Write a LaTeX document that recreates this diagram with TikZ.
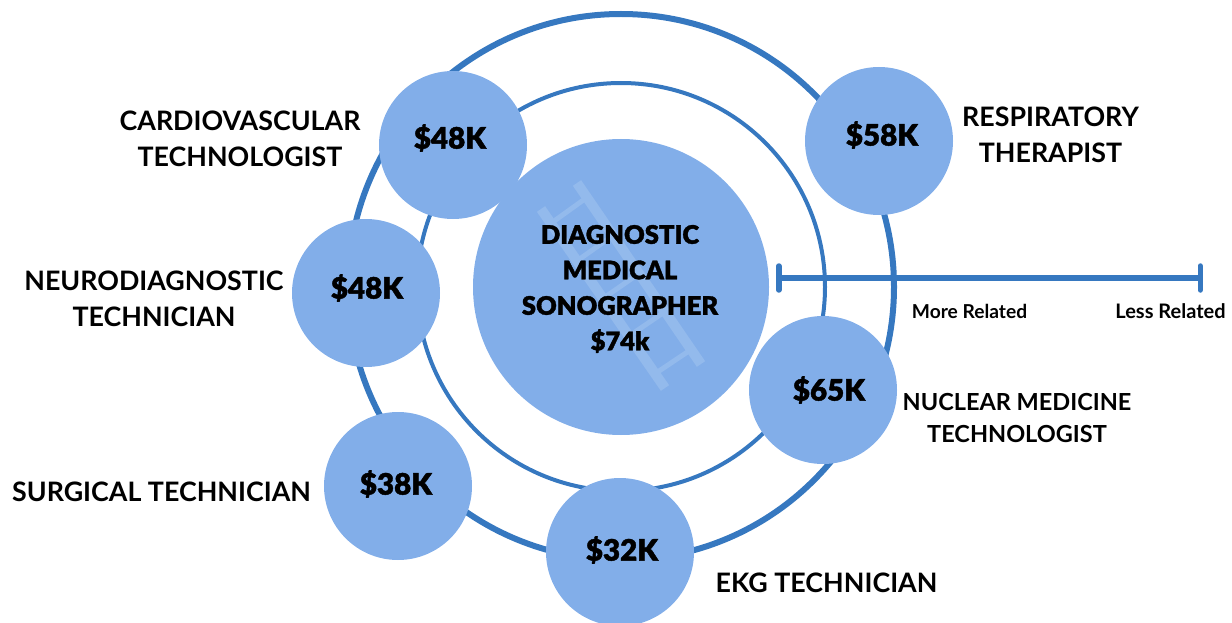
\documentclass[tikz,border=0pt]{standalone}
\usepackage{fontspec}
\setmainfont{Lato}
\newfontfamily\heavyfont[FakeBold=1.4]{Lato Black}
\usetikzlibrary{arrows.meta,positioning,calc}
\definecolor{bubble}{HTML}{82AEE9}
\definecolor{ringblue}{HTML}{3678C0}
\definecolor{rungblue}{HTML}{93BAEC}
\tikzset{
    %Define style for rings
    ring/.style={
   	circle,
   	draw=ringblue,
   	inner sep=0pt
   },
    %Define style for bubbles
    job/.style={
   	circle,
   	fill=bubble,
   	minimum size=148pt,
   	inner sep=0pt
   },
   amount/.style={
   	inner sep=0pt,
   	font=\heavyfont\fontsize{29.5}{32}\selectfont
   },
   lbl/.style={
   	align=center,
   	inner sep=0pt,
   	font=\fontsize{26.8}{35.5}\selectfont\bfseries
   },
   small/.style={
   	inner sep=0pt,
   	font=\fontsize{19.2}{22}\selectfont\bfseries
   },
    % Define ladder styles
    railline/.style={draw=rungblue, line width=10pt},
    rungline/.style={draw=rungblue, line width=5pt}
}
\begin{document}
\begin{tikzpicture}[x=1pt,y=-1pt]
		\useasboundingbox (0,0) rectangle (1232,623);
		\node[ring, line width=6pt, minimum size=546pt] (outer) at (621,287) {};
		\node[ring, line width=4pt, minimum size=408pt] (inner) at (621,287) {};
		\node[job, minimum size=296pt] (main) at (621,287) {};
		% ladder
		\coordinate (a1) at (541,209);
		\coordinate (a2) at (665,388);
		\coordinate (b1) at (577,183);
		\coordinate (b2) at (701,364);
		\draw[railline] (a1) -- (a2);
		\draw[railline] (b1) -- (b2);
		\foreach \t in {0.08,0.29,0.5,0.71,0.92}{
			\draw[rungline] ($(a1)!\t!(a2)$) -- ($(b1)!\t!(b2)$);
		}
		\node[align=center, inner sep=0pt, font=\heavyfont\fontsize{25.5}{35.5}\selectfont] (maintext) at (620,289) {DIAGNOSTIC\\MEDICAL\\SONOGRAPHER\\\$74k};
		\node[job](card) at (453,145){};
		\node[job](resp) at (879,141){};
		\node[job](neuro) at (366,293){};
		\node[job](nuc) at (823,390){};
		\node[job](surg) at (398,486){};
		\node[job](ekg) at (620,552){};
		\node[amount] (cardm) at (450,138) {\$48K};
		\node[amount] (respm) at (882,135) {\$58K};
		\node[amount] (neurom) at (367,288) {\$48K};
		\node[amount] (nucm) at (829,390) {\$65K};
		\node[amount] (surgm) at (396,484) {\$38K};
		\node[amount] (ekgm) at (622,550) {\$32K};
		\node[lbl] (cardl) at (240,139) {CARDIOVASCULAR\\TECHNOLOGIST};
		\node[lbl] (respl) at (1050.5,135) {RESPIRATORY\\THERAPIST};
		\node[lbl] (neurol) at (154,299) {NEURODIAGNOSTIC\\TECHNICIAN};
		\node[lbl, font=\fontsize{23.5}{32}\selectfont\bfseries] (nucl) at (1017,418) {NUCLEAR MEDICINE\\TECHNOLOGIST};
		\node[lbl] (surgl) at (161.5,492) {SURGICAL TECHNICIAN};
		\node[lbl] (ekgl) at (826.5,583) {EKG TECHNICIAN};
		% scale
		\coordinate (more) at (776,278);
		\coordinate (less) at (1203,278);
		\draw[ringblue, line width=6pt, {Bar[width=24pt,line width=5.5pt,round]}-{Bar[width=24pt,line width=5.5pt,round]}] (more) -- (less);
		\node[small] (morel) at (969.5,311) {More Related};
		\node[small, font=\fontsize{20}{22}\selectfont\bfseries] (lessl) at (1170.5,311) {Less Related};
\end{tikzpicture}
\end{document}
